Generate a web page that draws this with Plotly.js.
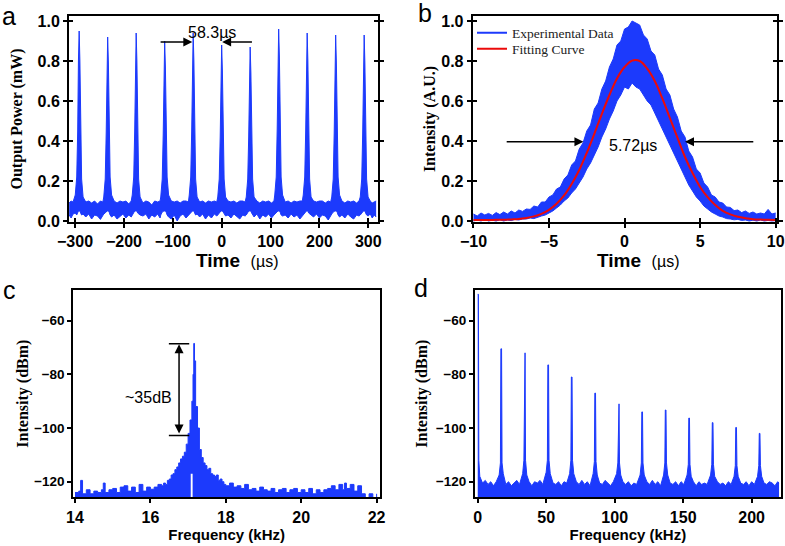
<!DOCTYPE html>
<html>
<head>
<meta charset="utf-8">
<script src="https://cdn.plot.ly/plotly-3.0.1.min.js"></script>
<style>html,body{margin:0;padding:0;background:#fff;}#chart{width:785px;height:546px;}</style>
</head>
<body>
<div id="chart"></div>
<script>
// ---------- Panel a: pulse train (upper / lower envelope of the trace) ----------
const aTime = [
-312, -308, -304,
-299.5, -296.5, -294.5, -293, -291.5, -290, -288.5, -286.5, -283.5,
-278, -272, -266, -260, -254, -248, -243,
-241.2, -238.2, -236.2, -234.7, -233.2, -231.7, -230.2, -228.2, -225.2,
-220, -214, -208, -202, -196, -190, -185,
-182.9, -179.9, -177.9, -176.4, -174.9, -173.4, -171.9, -169.9, -166.9,
-161, -155, -149, -143, -137, -131, -126,
-124.6, -121.6, -119.6, -118.1, -116.6, -115.1, -113.6, -111.6, -108.6,
-103, -97, -91, -85, -79, -73, -68,
-66.3, -63.3, -61.3, -59.8, -58.3, -56.8, -55.3, -53.3, -50.3,
-45, -39, -33, -27, -21, -15, -10,
-8, -5, -3, -1.5, 0, 1.5, 3, 5, 8,
13, 19, 25, 31, 37, 43, 48,
50.3, 53.3, 55.3, 56.8, 58.3, 59.8, 61.3, 63.3, 66.3,
72, 78, 84, 90, 96, 102, 107,
108.6, 111.6, 113.6, 115.1, 116.6, 118.1, 119.6, 121.6, 124.6,
130, 136, 142, 148, 154, 160, 165,
166.9, 169.9, 171.9, 173.4, 174.9, 176.4, 177.9, 179.9, 182.9,
188, 194, 200, 206, 212, 218, 223,
225.2, 228.2, 230.2, 231.7, 233.2, 234.7, 236.2, 238.2, 241.2,
246, 252, 258, 264, 270, 276, 281,
283.5, 286.5, 288.5, 290, 291.5, 293, 294.5, 296.5, 299.5,
304, 308, 312, 316
];
const aPowerHigh = [
0.09, 0.1, 0.095,
0.13, 0.22, 0.45, 0.8, 0.95, 0.8, 0.45, 0.21, 0.12,
0.095, 0.1, 0.09, 0.1, 0.085, 0.1, 0.095,
0.12, 0.21, 0.44, 0.78, 0.92, 0.79, 0.44, 0.22, 0.13,
0.1, 0.09, 0.1, 0.095, 0.1, 0.085, 0.1,
0.13, 0.22, 0.45, 0.8, 0.94, 0.8, 0.45, 0.21, 0.12,
0.09, 0.1, 0.095, 0.08, 0.1, 0.095, 0.1,
0.12, 0.21, 0.43, 0.77, 0.9, 0.77, 0.44, 0.22, 0.13,
0.1, 0.095, 0.1, 0.09, 0.1, 0.1, 0.095,
0.13, 0.22, 0.45, 0.8, 0.94, 0.8, 0.45, 0.21, 0.12,
0.095, 0.1, 0.09, 0.1, 0.095, 0.1, 0.095,
0.12, 0.21, 0.42, 0.75, 0.88, 0.75, 0.42, 0.21, 0.12,
0.1, 0.095, 0.1, 0.09, 0.1, 0.1, 0.095,
0.12, 0.21, 0.42, 0.74, 0.87, 0.74, 0.42, 0.21, 0.12,
0.1, 0.09, 0.1, 0.095, 0.1, 0.09, 0.1,
0.13, 0.22, 0.46, 0.82, 0.96, 0.82, 0.46, 0.22, 0.13,
0.095, 0.1, 0.09, 0.1, 0.095, 0.1, 0.1,
0.13, 0.22, 0.45, 0.8, 0.94, 0.8, 0.45, 0.21, 0.12,
0.1, 0.095, 0.1, 0.1, 0.09, 0.1, 0.095,
0.12, 0.21, 0.44, 0.79, 0.93, 0.79, 0.44, 0.22, 0.13,
0.1, 0.09, 0.1, 0.095, 0.1, 0.09, 0.1,
0.12, 0.21, 0.44, 0.79, 0.93, 0.79, 0.44, 0.21, 0.12,
0.1, 0.09, 0.095, 0.1
];
const aPowerLow = [
0.03, 0.015, 0.035,
0.04, 0.03, 0.045, 0.05, 0.05, 0.05, 0.04, 0.03, 0.035,
0.02, 0.035, 0.01, 0.03, 0.025, 0.008, 0.03,
0.035, 0.04, 0.05, 0.05, 0.05, 0.05, 0.045, 0.03, 0.02,
0.03, 0.01, 0.025, 0.035, 0.015, 0.03, 0.02,
0.03, 0.04, 0.05, 0.05, 0.05, 0.05, 0.04, 0.035, 0.03,
0.025, 0.035, 0.01, 0.03, 0.02, 0.035, 0.015,
0.03, 0.045, 0.05, 0.05, 0.05, 0.05, 0.045, 0.03, 0.02,
0.01, 0.03, 0.0, 0.025, 0.035, 0.015, 0.03,
0.035, 0.04, 0.05, 0.05, 0.05, 0.05, 0.04, 0.03, 0.035,
0.02, 0.035, 0.01, 0.03, 0.015, 0.035, 0.025,
0.03, 0.04, 0.05, 0.05, 0.05, 0.05, 0.045, 0.035, 0.025,
0.03, 0.015, 0.035, 0.02, 0.01, 0.03, 0.025,
0.03, 0.045, 0.05, 0.05, 0.05, 0.05, 0.04, 0.03, 0.02,
0.035, 0.01, 0.03, 0.02, 0.035, 0.015, 0.03,
0.035, 0.04, 0.05, 0.05, 0.05, 0.05, 0.045, 0.03, 0.025,
0.03, 0.015, 0.035, 0.02, 0.03, 0.01, 0.025,
0.03, 0.04, 0.05, 0.05, 0.05, 0.05, 0.04, 0.035, 0.03,
0.02, 0.035, 0.015, 0.03, 0.025, 0.005, 0.03,
0.035, 0.045, 0.05, 0.05, 0.05, 0.05, 0.045, 0.03, 0.02,
0.03, 0.015, 0.035, 0.02, 0.01, 0.03, 0.025,
0.03, 0.04, 0.05, 0.05, 0.05, 0.05, 0.04, 0.03, 0.025,
0.035, 0.015, 0.03, 0.02
];
const aTimeTicks = [-300, -200, -100, 0, 100, 200, 300];
const aPowerTicks = [0, 0.2, 0.4, 0.6, 0.8, 1.0];
const aPowerTickText = ['0.0', '0.2', '0.4', '0.6', '0.8', '1.0'];

// ---------- Panel b: single pulse ----------
const bTime = [
-10, -9.75, -9.5, -9.25, -9, -8.75, -8.5, -8.25, -8, -7.75, -7.5, -7.25, -7, -6.75, -6.5, -6.25,
-6, -5.75, -5.5, -5.25, -5, -4.75, -4.5, -4.25, -4, -3.75, -3.5, -3.25, -3, -2.75, -2.5, -2.25,
-2, -1.75, -1.5, -1.25, -1, -0.75, -0.5, -0.25, 0, 0.25, 0.5, 0.75, 1, 1.25, 1.5, 1.75,
2, 2.25, 2.5, 2.75, 3, 3.25, 3.5, 3.75, 4, 4.25, 4.5, 4.75, 5, 5.25, 5.5, 5.75,
6, 6.25, 6.5, 6.75, 7, 7.25, 7.5, 7.75, 8, 8.25, 8.5, 8.75, 9, 9.25, 9.5, 9.75, 10
];
const bIntensityHigh = [
0.035, 0.025, 0.04, 0.03, 0.038, 0.028, 0.042, 0.032, 0.045, 0.035, 0.05, 0.04, 0.055, 0.048, 0.06, 0.058,
0.075, 0.07, 0.095, 0.095, 0.12, 0.13, 0.16, 0.17, 0.21, 0.23, 0.28, 0.3, 0.36, 0.39, 0.45, 0.48,
0.56, 0.59, 0.66, 0.7, 0.77, 0.81, 0.88, 0.9, 0.96, 0.97, 1.0, 0.99, 0.98, 0.93, 0.91, 0.85,
0.83, 0.76, 0.73, 0.66, 0.63, 0.56, 0.52, 0.45, 0.42, 0.35, 0.32, 0.26, 0.24, 0.19, 0.17, 0.13,
0.12, 0.095, 0.09, 0.07, 0.068, 0.052, 0.055, 0.042, 0.05, 0.038, 0.045, 0.035, 0.04, 0.035, 0.058, 0.035, 0.04
];
const bIntensityLow = [
0.0, 0.005, 0.0, 0.008, 0.0, 0.004, 0.0, 0.006, 0.0, 0.005, 0.002, 0.008, 0.005, 0.01, 0.01, 0.015,
0.012, 0.02, 0.025, 0.03, 0.04, 0.05, 0.065, 0.08, 0.1, 0.115, 0.14, 0.16, 0.19, 0.22, 0.26, 0.29,
0.33, 0.37, 0.42, 0.46, 0.51, 0.55, 0.6, 0.63, 0.67, 0.66, 0.69, 0.67, 0.66, 0.63, 0.6, 0.58,
0.54, 0.5, 0.46, 0.42, 0.38, 0.34, 0.3, 0.26, 0.22, 0.18, 0.15, 0.12, 0.1, 0.075, 0.06, 0.045,
0.035, 0.025, 0.02, 0.012, 0.01, 0.006, 0.008, 0.003, 0.005, 0.0, 0.004, 0.0, 0.005, 0.0, 0.003, 0.0, 0.002
];
const bFitTime = [
-10, -9.5, -9, -8.5, -8, -7.5, -7, -6.5, -6, -5.5, -5, -4.5, -4, -3.5, -3, -2.5, -2, -1.5, -1, -0.5,
0, 0.5, 1, 1.5, 2, 2.5, 3, 3.5, 4, 4.5, 5, 5.5, 6, 6.5, 7, 7.5, 8, 8.5, 9, 9.5, 10
];
const bFitIntensity = [
0.005, 0.005, 0.005, 0.006, 0.006, 0.008, 0.01, 0.015, 0.023, 0.036, 0.056, 0.086, 0.128, 0.185, 0.255, 0.341, 0.436, 0.536, 0.63, 0.713,
0.77, 0.802, 0.8, 0.762, 0.7, 0.613, 0.515, 0.417, 0.32, 0.24, 0.17, 0.119, 0.08, 0.051, 0.033, 0.021, 0.014, 0.009, 0.007, 0.006, 0.005
];
const bTimeTicks = [-10, -5, 0, 5, 10];
const bLegendNames = ['Experimental Data', 'Fitting Curve'];

// ---------- Panel c: RF spectrum around fundamental ----------
const cFreq = [
14.0, 14.1, 14.15, 14.2, 14.3, 14.4, 14.5, 14.6, 14.7, 14.75, 14.8, 14.9, 15.0, 15.1, 15.2, 15.3,
15.4, 15.5, 15.6, 15.7, 15.8, 15.9, 16.0, 16.1, 16.2, 16.3, 16.35, 16.4, 16.45, 16.5, 16.55, 16.6,
16.65, 16.7, 16.75, 16.8, 16.85, 16.9, 16.95, 17.0, 17.05, 17.1, 17.13, 17.15, 17.17, 17.2, 17.25, 17.3,
17.35, 17.4, 17.45, 17.5, 17.55, 17.6, 17.65, 17.7, 17.75, 17.8, 17.85, 17.9, 17.95, 18.0, 18.1, 18.2,
18.3, 18.4, 18.5, 18.6, 18.7, 18.8, 18.9, 19.0, 19.1, 19.2, 19.3, 19.4, 19.5, 19.6, 19.7, 19.8,
19.9, 20.0, 20.1, 20.2, 20.3, 20.4, 20.5, 20.6, 20.7, 20.8, 20.9, 21.0, 21.1, 21.15, 21.2, 21.3,
21.4, 21.5, 21.6, 21.7, 21.8, 21.9, 22.0
];
const cLevel = [
-124, -123.5, -119.5, -124.5, -123, -124.5, -123.5, -124, -123, -120.5, -124, -123, -122.5, -124, -122, -121.5,
-123.5, -122, -124, -121, -123.5, -122, -122.8, -122, -121, -121.5, -120.5, -121, -119.5, -119, -117.5, -117,
-115.5, -114.5, -113, -111.5, -110.5, -109, -106, -102, -97, -90, -80, -68.5, -75, -92, -100, -108,
-111, -113, -114, -115.5, -115, -117, -117.5, -118, -117.5, -119.5, -119, -120, -121, -121.5, -120.5, -122,
-121.5, -122.5, -121, -123, -122.5, -123.5, -122, -123, -123.5, -122.5, -124, -123, -122.5, -124, -123, -122.5,
-124, -123, -124, -122.5, -124.5, -123, -124, -123, -122.5, -121.5, -123, -121, -123, -120.5, -122.5, -121,
-123.5, -121.5, -124.5, -126, -124.5, -126, -124.5
];
const cFloorFreq = [14.0, 17.07, 17.07, 17.12, 17.12, 22.0];
const cFloorLevel = [-130, -130, -117, -117, -130, -130];
const cFreqTicks = [14, 16, 18, 20, 22];
const cLevelTicks = [-120, -100, -80, -60];

// ---------- Panel d: RF spectrum, harmonics ----------
const dFreq = [
0, 0.5, 0.8, 1.5, 3.5, 5.5, 7.5, 9.5, 11.5, 13.5,
15.65, 16.55, 16.9, 17.4, 17.75, 18.65, 20.5, 22.5, 24.5, 26.5, 28.5, 30.5,
32.8, 33.7, 34.05, 34.55, 34.9, 35.8, 37.5, 39.5, 41.5, 43.5, 45.5, 47.5,
49.95, 50.85, 51.2, 51.7, 52.05, 52.95, 55, 57, 59, 61, 63, 65,
67.1, 68.0, 68.35, 68.85, 69.2, 70.1, 72, 74, 76, 78, 80, 82,
84.25, 85.15, 85.5, 86.0, 86.35, 87.25, 89, 91, 93, 95, 97, 99,
101.4, 102.3, 102.65, 103.15, 103.5, 104.4, 106, 108, 110, 112, 114, 116,
118.55, 119.45, 119.8, 120.3, 120.65, 121.55, 123.5, 125.5, 127.5, 129.5, 131.5, 133.5,
135.7, 136.6, 136.95, 137.45, 137.8, 138.7, 140.5, 142.5, 144.5, 146.5, 148.5, 150.5,
152.85, 153.75, 154.1, 154.6, 154.95, 155.85, 157.5, 159.5, 161.5, 163.5, 165.5, 167.5,
170.0, 170.9, 171.25, 171.75, 172.1, 173.0, 175, 177, 179, 181, 183, 185,
187.15, 188.05, 188.4, 188.9, 189.25, 190.15, 192, 194, 196, 198, 200, 202,
204.3, 205.2, 205.55, 206.05, 206.4, 207.3, 209, 211, 213, 215, 217, 219, 220
];
const dLevel = [
-50.2, -50.2, -112, -118, -120.5, -119.5, -121, -120, -121.5, -120,
-117.5, -113, -70.5, -70.5, -113, -117, -121, -120, -121.5, -120.5, -119.5, -121,
-117, -112, -72, -72, -112, -117.5, -120, -121.5, -120, -120.5, -119.5, -121,
-116.5, -112, -76.5, -76.5, -112, -117, -120.5, -121, -120, -121.5, -120, -120.5,
-117, -112, -81, -81, -112, -117, -120, -121, -119.5, -121, -120, -121.5,
-117, -112.5, -87, -87, -112.5, -117.5, -120.5, -121, -119.5, -120.5, -121.5, -120,
-117, -113, -91, -91, -113, -117.5, -120, -121, -120, -121.5, -120.5, -121,
-117.5, -113, -94, -94, -113, -117.5, -120, -121, -119.5, -121, -120, -121.5,
-117.5, -113, -93.3, -93.3, -113, -117.5, -120.5, -121, -120, -121.5, -120, -121,
-117.5, -113.5, -96.3, -96.3, -113.5, -118, -120, -121.5, -120, -121, -120.5, -121,
-117.5, -113.5, -98, -98, -113.5, -118, -120, -121, -120.5, -121.5, -120, -121,
-118, -114, -99.8, -99.8, -114, -118, -120.5, -121, -120, -121.5, -120, -121,
-118, -114, -102, -102, -114, -118, -120.5, -121, -120, -120.5, -121.5, -120, -120.5
];
const dFloorFreq = [0, 220];
const dFloorLevel = [-130, -130];
const dFreqTicks = [0, 50, 100, 150, 200];
const dLevelTicks = [-120, -100, -80, -60];

// ---------- styling ----------
const BLUE = 'rgb(28,58,252)';
const SANS = 'Liberation Sans, Arial, sans-serif';
const SERIF = 'Liberation Serif, Times New Roman, serif';
const tickFont = {family: SANS, size: 16, color: '#000', weight: 'bold'};
const tickFontSmall = {family: SANS, size: 13.5, color: '#000', weight: 'bold'};
const serifTitle = {family: SERIF, size: 16, color: '#000', weight: 'bold'};
const sansTitle = {family: SANS, size: 15, color: '#000', weight: 'bold'};
const timeTitleFont = {family: SANS, size: 19, color: '#000'};
const TIME_TEXT = '<b>Time</b>\u00a0\u00a0<span style="font-size:16px;font-family:\'Liberation Sans Narrow\',\'Liberation Sans\',sans-serif">(µs)</span>';

function axisBase(extra) {
  return Object.assign({
    showline: true, linecolor: '#000', linewidth: 2, mirror: true,
    ticks: 'outside', ticklen: 4, tickwidth: 2, tickcolor: '#000',
    showgrid: false, zeroline: false, tickfont: tickFont, automargin: false
  }, extra);
}
function innerTicks(extra) {
  return Object.assign({
    showline: false, showgrid: false, zeroline: false, showticklabels: false,
    ticks: 'inside', ticklen: 4, tickwidth: 2, tickcolor: '#000', automargin: false
  }, extra);
}

const traces = [
  // a
  {x: aTime, y: aPowerLow, xaxis: 'x', yaxis: 'y', mode: 'lines', line: {color: BLUE, width: 1}, showlegend: false, hoverinfo: 'skip'},
  {x: aTime, y: aPowerHigh, xaxis: 'x', yaxis: 'y', mode: 'lines', line: {color: BLUE, width: 1}, fill: 'tonexty', fillcolor: BLUE, showlegend: false, hoverinfo: 'skip'},
  // b
  {x: bTime, y: bIntensityLow, xaxis: 'x2', yaxis: 'y2', mode: 'lines', line: {color: BLUE, width: 1}, showlegend: false, hoverinfo: 'skip'},
  {x: bTime, y: bIntensityHigh, xaxis: 'x2', yaxis: 'y2', mode: 'lines', line: {color: BLUE, width: 1}, fill: 'tonexty', fillcolor: BLUE, showlegend: false, hoverinfo: 'skip'},
  {x: bFitTime, y: bFitIntensity, xaxis: 'x2', yaxis: 'y2', mode: 'lines', line: {color: 'rgb(235,10,10)', width: 2, shape: 'spline'}, name: bLegendNames[1], showlegend: true, legend: 'legend2'},
  {x: [null], y: [null], xaxis: 'x2', yaxis: 'y2', mode: 'lines', line: {color: BLUE, width: 2}, name: bLegendNames[0], showlegend: true, legend: 'legend'},
  // c
  {x: cFloorFreq, y: cFloorLevel, xaxis: 'x3', yaxis: 'y3', mode: 'lines', line: {color: BLUE, width: 0, shape: 'hv'}, showlegend: false, hoverinfo: 'skip'},
  {x: cFreq, y: cLevel, xaxis: 'x3', yaxis: 'y3', mode: 'lines', line: {color: BLUE, width: 1, shape: 'hv'}, fill: 'tonexty', fillcolor: BLUE, showlegend: false, hoverinfo: 'skip'},
  // d
  {x: dFloorFreq, y: dFloorLevel, xaxis: 'x4', yaxis: 'y4', mode: 'lines', line: {color: BLUE, width: 0}, showlegend: false, hoverinfo: 'skip'},
  {x: dFreq, y: dLevel, xaxis: 'x4', yaxis: 'y4', mode: 'lines', line: {color: BLUE, width: 1}, fill: 'tonexty', fillcolor: BLUE, showlegend: false, hoverinfo: 'skip'},
  // carriers for the inward half of the crossing ticks (panels a, b)
  {x: [null], y: [null], xaxis: 'x5', yaxis: 'y5', mode: 'lines', showlegend: false, hoverinfo: 'skip'},
  {x: [null], y: [null], xaxis: 'x6', yaxis: 'y6', mode: 'lines', showlegend: false, hoverinfo: 'skip'}
];

const W = 785, H = 546;
const px = v => v / W;
const py = v => 1 - v / H;

const arrowCommon = {showarrow: true, text: '', arrowhead: 2, arrowsize: 1.2, arrowwidth: 1.5, arrowcolor: '#000', standoff: 0};
const letterFont = {family: SANS, size: 25, color: '#000'};
const noteFont = {family: SANS, size: 16, color: '#000'};
const legendFont = {family: SERIF, size: 13.5, color: '#222'};

const layout = {
  width: W, height: H,
  margin: {l: 0, r: 0, t: 0, b: 0},
  paper_bgcolor: '#fff', plot_bgcolor: '#fff',
  showlegend: true,
  legend: {x: px(472), y: py(33), xanchor: 'left', yanchor: 'middle', bgcolor: 'rgba(0,0,0,0)', font: legendFont},
  legend2: {x: px(472), y: py(49), xanchor: 'left', yanchor: 'middle', bgcolor: 'rgba(0,0,0,0)', font: legendFont},
  xaxis: axisBase({domain: [px(69), px(377.7)], anchor: 'y', range: [-312.3, 319.2], tickvals: aTimeTicks}),
  yaxis: axisBase({domain: [py(222), py(16)], anchor: 'x', range: [-0.005, 1.025], tickvals: aPowerTicks, ticktext: aPowerTickText,
    mirror: 'ticks', title: {text: 'Output Power (mW)', font: serifTitle, standoff: 11}}),
  xaxis2: axisBase({domain: [px(472.7), px(776.7)], anchor: 'y2', range: [-10.05, 10.07], tickvals: bTimeTicks}),
  yaxis2: axisBase({domain: [py(222), py(16)], anchor: 'x2', range: [-0.005, 1.025], tickvals: aPowerTicks, ticktext: aPowerTickText,
    mirror: 'ticks', title: {text: 'Intensity (A.U.)', font: serifTitle, standoff: 2}}),
  xaxis3: axisBase({domain: [px(73.3), px(380)], anchor: 'y3', range: [13.955, 22.09], tickvals: cFreqTicks,
    title: {text: 'Frequency (kHz)', font: sansTitle, standoff: 4}}),
  yaxis3: axisBase({domain: [py(497.3), py(290)], anchor: 'x3', range: [-125.8, -48.6], tickvals: cLevelTicks, tickfont: tickFontSmall,
    title: {text: 'Intensity (dBm)', font: serifTitle, standoff: 2}}),
  xaxis4: axisBase({domain: [px(475), px(780.7)], anchor: 'y4', range: [-2, 221.2], tickvals: dFreqTicks,
    title: {text: 'Frequency (kHz)', font: sansTitle, standoff: 4}}),
  yaxis4: axisBase({domain: [py(497.3), py(290)], anchor: 'x4', range: [-125.8, -48.6], tickvals: dLevelTicks, tickfont: tickFontSmall,
    title: {text: 'Intensity (dBm)', font: serifTitle, standoff: 4}}),
  xaxis5: innerTicks({overlaying: 'x', anchor: 'y5', range: [-312.3, 319.2], tickvals: aTimeTicks}),
  yaxis5: innerTicks({overlaying: 'y', anchor: 'x5', range: [-0.005, 1.025], tickvals: aPowerTicks, mirror: 'ticks'}),
  xaxis6: innerTicks({overlaying: 'x2', anchor: 'y6', range: [-10.05, 10.07], tickvals: bTimeTicks}),
  yaxis6: innerTicks({overlaying: 'y2', anchor: 'x6', range: [-0.005, 1.025], tickvals: aPowerTicks, mirror: 'ticks'}),
  shapes: [
    {type: 'line', xref: 'x3', yref: 'y3', x0: 16.49, x1: 17.03, y0: -68.6, y1: -68.6, line: {color: '#000', width: 1.5}},
    {type: 'line', xref: 'x3', yref: 'y3', x0: 16.49, x1: 17.03, y0: -102.8, y1: -102.8, line: {color: '#000', width: 1.5}}
  ],
  annotations: [
    // panel letters
    {xref: 'paper', yref: 'paper', x: px(9), y: py(16), xanchor: 'center', yanchor: 'middle', text: 'a', showarrow: false, font: letterFont},
    {xref: 'paper', yref: 'paper', x: px(425), y: py(13), xanchor: 'center', yanchor: 'middle', text: 'b', showarrow: false, font: letterFont},
    {xref: 'paper', yref: 'paper', x: px(9), y: py(290), xanchor: 'center', yanchor: 'middle', text: 'c', showarrow: false, font: letterFont},
    {xref: 'paper', yref: 'paper', x: px(421), y: py(288), xanchor: 'center', yanchor: 'middle', text: 'd', showarrow: false, font: letterFont},
    // x-axis titles of panels a and b (set right of centre, as in the figure)
    {xref: 'paper', yref: 'paper', x: px(236.5), y: py(260), xanchor: 'center', yanchor: 'middle', text: TIME_TEXT, showarrow: false, font: timeTitleFont},
    {xref: 'paper', yref: 'paper', x: px(638), y: py(260), xanchor: 'center', yanchor: 'middle', text: TIME_TEXT, showarrow: false, font: timeTitleFont},
    // panel a
    Object.assign({xref: 'x', yref: 'y', x: -60, y: 0.895, axref: 'x', ayref: 'y', ax: -128, ay: 0.895}, arrowCommon),
    Object.assign({xref: 'x', yref: 'y', x: 1, y: 0.895, axref: 'x', ayref: 'y', ax: 65, ay: 0.895}, arrowCommon),
    {xref: 'x', yref: 'y', x: -19.8, y: 0.943, text: '58.3µs', showarrow: false, font: noteFont},
    // panel b
    Object.assign({xref: 'x2', yref: 'y2', x: -2.72, y: 0.396, axref: 'x2', ayref: 'y2', ax: -7.9, ay: 0.396}, arrowCommon),
    Object.assign({xref: 'x2', yref: 'y2', x: 4.0, y: 0.396, axref: 'x2', ayref: 'y2', ax: 8.62, ay: 0.396}, arrowCommon),
    {xref: 'x2', yref: 'y2', x: 0.53, y: 0.376, text: '5.72µs', showarrow: false, font: noteFont},
    // panel c
    Object.assign({xref: 'x3', yref: 'y3', x: 16.76, y: -68.8, axref: 'x3', ayref: 'y3', ax: 16.76, ay: -102.6, arrowside: 'end+start', startarrowhead: 2}, arrowCommon),
    {xref: 'x3', yref: 'y3', x: 15.955, y: -88.55, text: '~35dB', showarrow: false, font: noteFont}
  ]
};

Plotly.newPlot('chart', traces, layout, {staticPlot: true, displayModeBar: false});
</script>
</body>
</html>
